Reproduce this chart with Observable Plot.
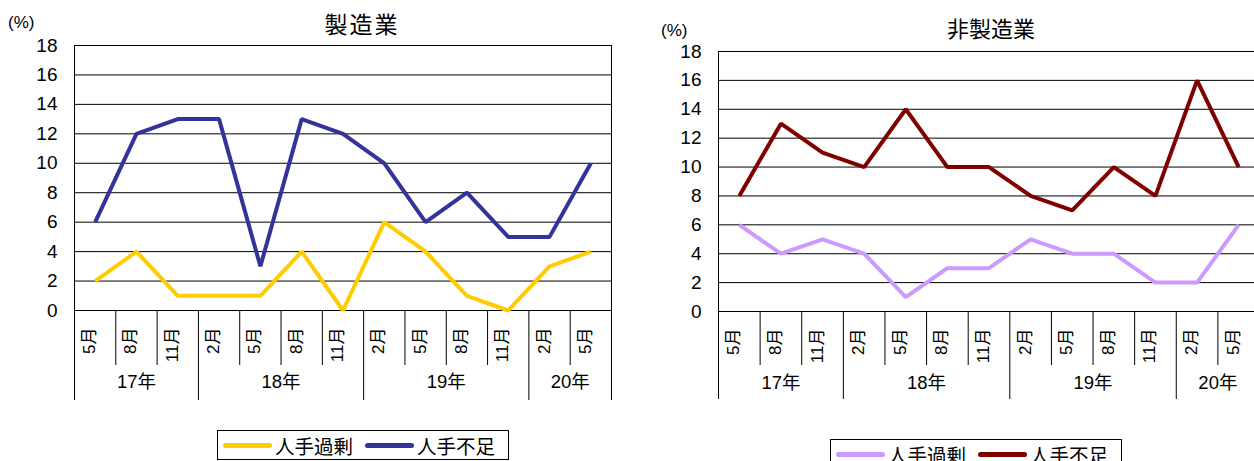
<!DOCTYPE html>
<html><head><meta charset="utf-8">
<script src="https://cdn.jsdelivr.net/npm/d3@7"></script>
<script src="https://cdn.jsdelivr.net/npm/@observablehq/plot@0.6"></script>
<style>
html,body{margin:0;padding:0;background:#fff;overflow:hidden;}
#wrap{position:relative;width:1254px;height:461px;overflow:hidden;font-family:"Liberation Sans","Noto Sans CJK JP",sans-serif;color:#000;}
.abs{position:absolute;}
.title{transform:translate(-50%,-50%);white-space:nowrap;line-height:1;}
.unit{font-size:17px;transform:translate(0,-50%);line-height:1;white-space:nowrap;}
.legend{border:1px solid #000;display:flex;align-items:center;font-size:19.5px;padding:0 0 0 5px;height:30px;box-sizing:border-box;background:#fff;white-space:nowrap;}
.sw{display:inline-block;width:49px;height:5px;border-radius:3px;margin-right:3px;}
.item{display:flex;align-items:center;margin-right:12px;}
</style></head>
<body><div id="wrap"></div>
<script>
// ---- data ----
const months = ["5月","8月","11月","2月","5月","8月","11月","2月","5月","8月","11月","2月","5月"];
const years  = ["17年","17年","17年","18年","18年","18年","18年","19年","19年","19年","19年","20年","20年"];
const seriesNames = ["人手過剰","人手不足"];
const mfgSurplus     = [2,4,1,1,1,4,0,6,4,1,0,3,4];
const mfgShortage    = [6,12,13,13,3,13,12,10,6,8,5,5,10];
const nonMfgSurplus  = [6,4,5,4,1,3,3,5,4,4,2,2,6];
const nonMfgShortage = [8,13,11,10,14,10,10,8,7,10,8,16,10];
const yTicks = [0,2,4,6,8,10,12,14,16,18];
const mfgColors = ["#FFCC00","#333399"];
const nonMfgColors = ["#CC99FF","#800000"];

const FONT = '"Liberation Sans","Noto Sans CJK JP",sans-serif';

function chart({surplus, shortage, colors, width, height, marginLeft, marginRight, marginTop, marginBottom, monthTick, yearTick}) {
  const rows = [];
  [surplus, shortage].forEach((arr, k) => arr.forEach((v, i) => rows.push({series: seriesNames[k], i, v})));
  const idx = months.map((_, i) => i);
  const monthSep = [], yearSep = [-0.5];
  for (let i = 1; i < months.length; i++) (years[i] !== years[i-1] ? yearSep : monthSep).push(i - 0.5);
  yearSep.push(months.length - 0.5);
  const groups = d3.groups(idx, i => years[i]).map(([y, is]) => ({label: y, x: (d3.min(is) + d3.max(is)) / 2}));
  return Plot.plot({
    width, height, marginLeft, marginRight, marginTop, marginBottom,
    x: {type: "linear", domain: [-0.5, months.length - 0.5]},
    y: {domain: [0, 18]},
    color: {domain: seriesNames, range: colors},
    style: {fontFamily: FONT, fontSize: "19px", color: "#000", background: "transparent", overflow: "visible"},
    marks: [
      Plot.gridY(yTicks, {stroke: "#000", strokeOpacity: 1}),
      Plot.frame({stroke: "#000"}),
      Plot.axisY(yTicks, {tickSize: 0, tickPadding: 17, label: null, fontSize: 19}),
      Plot.axisX(monthSep, {tickSize: monthTick, tickFormat: () => "", label: null}),
      Plot.axisX(yearSep, {tickSize: yearTick, tickFormat: () => "", label: null}),
      Plot.text(idx, {x: d => d, text: i => months[i], frameAnchor: "bottom", dy: 17, rotate: -90, textAnchor: "end", fontSize: 17}),
      Plot.text(groups, {x: "x", text: "label", frameAnchor: "bottom", dy: 77, fontSize: 18.5}),
      Plot.line(rows, {x: "i", y: "v", z: "series", stroke: "series", strokeWidth: 4, strokeLinejoin: "miter", strokeLinecap: "butt"})
    ]
  });
}

function place(el, left, top) {
  el.style.position = "absolute"; el.style.left = left + "px"; el.style.top = top + "px";
  return el;
}
function div(cls, text, left, top, extra) {
  const d = document.createElement("div"); d.className = "abs " + cls; d.textContent = text;
  d.style.left = left + "px"; d.style.top = top + "px";
  if (extra) Object.assign(d.style, extra);
  return d;
}
function legend(colors, left, top, width) {
  const d = document.createElement("div"); d.className = "abs legend";
  d.style.left = left + "px"; d.style.top = top + "px"; d.style.width = width + "px";
  seriesNames.forEach((s, k) => {
    const it = document.createElement("span"); it.className = "item";
    const sw = document.createElement("span"); sw.className = "sw"; sw.style.background = colors[k];
    const t = document.createElement("span"); t.textContent = s;
    it.append(sw, t); d.append(it);
  });
  return d;
}

const wrap = document.getElementById("wrap");
wrap.append(place(chart({surplus: mfgSurplus, shortage: mfgShortage, colors: mfgColors,
  width: 630, height: 410, marginLeft: 74, marginRight: 19, marginTop: 45, marginBottom: 100, monthTick: 55, yearTick: 90}), 0, 0));
wrap.append(place(chart({surplus: nonMfgSurplus, shortage: nonMfgShortage, colors: nonMfgColors,
  width: 640, height: 411, marginLeft: 88, marginRight: 11, marginTop: 51, marginBottom: 100, monthTick: 54, yearTick: 88}), 630, 0));
wrap.append(div("title", "製造業", 362, 25, {fontSize: "23px", letterSpacing: "2px"}));
wrap.append(div("title", "非製造業", 991, 30, {fontSize: "22px"}));
wrap.append(div("unit", "(%)", 8, 22));
wrap.append(div("unit", "(%)", 661, 30));
wrap.append(legend(mfgColors, 217, 430, 292));
wrap.append(legend(nonMfgColors, 830, 439, 292));
</script></body></html>
